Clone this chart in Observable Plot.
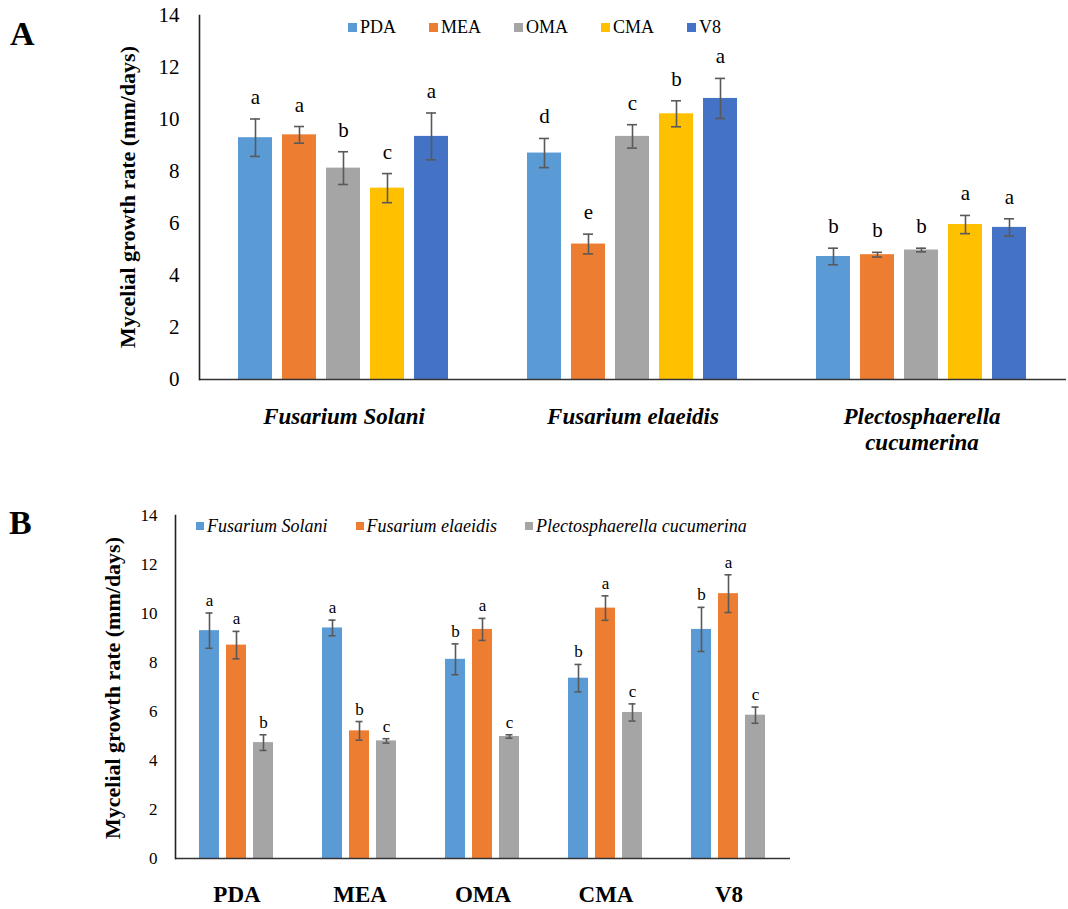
<!DOCTYPE html>
<html><head><meta charset="utf-8">
<script src="https://cdn.jsdelivr.net/npm/d3@7"></script>
<script src="https://cdn.jsdelivr.net/npm/@observablehq/plot@0.6"></script>
<style>
body{margin:0;background:#fff;}
#wrap{position:relative;width:1068px;height:909px;overflow:hidden;font-family:"Liberation Serif","Times New Roman",serif;color:#000;background:#fff;}
.ytitle{position:absolute;white-space:nowrap;font-weight:bold;font-size:22px;transform:translate(-50%,-50%) rotate(-90deg);}
.panel{position:absolute;font-weight:bold;font-size:34px;line-height:1;}
.legend{position:absolute;display:flex;align-items:center;white-space:nowrap;}
.legend .it{display:flex;align-items:center;}
.legend .sw{display:inline-block;margin-right:3px;}
#wrap svg{overflow:visible;}
#wrap svg, #wrap svg g, #wrap svg text, #wrap svg tspan{font-family:"Liberation Serif","Times New Roman",serif !important;}
</style></head><body><div id="wrap"></div>
<script>
// ---- data ----
const species = ["Fusarium Solani", "Fusarium elaeidis", "Plectosphaerella cucumerina"];
const media = ["PDA", "MEA", "OMA", "CMA", "V8"];
const mediaColors = ["#5B9BD5", "#ED7D31", "#A5A5A5", "#FFC000", "#4472C4"];
const speciesColors = ["#5B9BD5", "#ED7D31", "#A5A5A5"];
const yTicks = [0, 2, 4, 6, 8, 10, 12, 14];

// mean growth rate (mm/days) per medium [PDA, MEA, OMA, CMA, V8]
const fSolaniMean = [9.30, 9.41, 8.13, 7.36, 9.35];
const fSolaniErr = [0.72, 0.32, 0.63, 0.56, 0.90];
const fElaeidisMean = [8.71, 5.21, 9.35, 10.22, 10.81];
const fElaeidisErr = [0.56, 0.38, 0.45, 0.50, 0.77];
const pCucumerinaMean = [4.73, 4.80, 4.98, 5.96, 5.85];
const pCucumerinaErr = [0.32, 0.09, 0.07, 0.35, 0.33];

// significance letters, panel A (compare media within species)
const fSolaniLetA = ["a", "a", "b", "c", "a"];
const fElaeidisLetA = ["d", "e", "c", "b", "a"];
const pCucumerinaLetA = ["b", "b", "b", "a", "a"];
// significance letters, panel B (compare species within medium)
const fSolaniLetB = ["a", "a", "b", "b", "b"];
const fElaeidisLetB = ["a", "b", "a", "a", "a"];
const pCucumerinaLetB = ["b", "c", "c", "c", "c"];

// ---- table built from arrays ----
const means = [fSolaniMean, fElaeidisMean, pCucumerinaMean];
const errs = [fSolaniErr, fElaeidisErr, pCucumerinaErr];
const letA = [fSolaniLetA, fElaeidisLetA, pCucumerinaLetA];
const letB = [fSolaniLetB, fElaeidisLetB, pCucumerinaLetB];
const rows = [];
species.forEach((s, i) => media.forEach((m, j) => rows.push({
  species: s, medium: m, mean: means[i][j], err: errs[i][j], letA: letA[i][j], letB: letB[i][j]
})));

const wrap = document.getElementById("wrap");
const errColor = "#595959";
const axisColor = "#333333";
const serif = "'Liberation Serif', 'Times New Roman', serif";
const svgStyle = "font-family: " + serif + "; color: #000; background: transparent; overflow: visible;";

// ---- Panel A ----
const plotA = Plot.plot({
  width: 1068, height: 470,
  marginLeft: 198, marginRight: 2, marginTop: 15, marginBottom: 91,
  style: svgStyle,
  fx: {domain: species, padding: 0, label: null},
  x: {domain: media, paddingInner: 0.222, paddingOuter: 0.869, axis: null},
  y: {domain: [0, 14], axis: null},
  color: {domain: media, range: mediaColors},
  marks: [
    Plot.barY(rows, {fx: "species", x: "medium", y: "mean", fill: "medium"}),
    Plot.ruleX(rows, {fx: "species", x: "medium", y1: d => d.mean - d.err, y2: d => d.mean + d.err, stroke: errColor, strokeWidth: 1.6}),
    Plot.tickY(rows, {fx: "species", x: "medium", y: d => d.mean + d.err, stroke: errColor, strokeWidth: 1.6, insetLeft: 12, insetRight: 12}),
    Plot.tickY(rows, {fx: "species", x: "medium", y: d => d.mean - d.err, stroke: errColor, strokeWidth: 1.6, insetLeft: 12, insetRight: 12}),
    Plot.text(rows, {fx: "species", x: "medium", y: d => d.mean + d.err, text: "letA", dy: -15, lineAnchor: "bottom", fontSize: 21, fontFamily: serif}),
    Plot.ruleY([0], {stroke: axisColor, strokeWidth: 1.6}),
    Plot.frame({anchor: "left", facetAnchor: "left", stroke: "#222", strokeWidth: 1.6}),
    Plot.axisY(yTicks, {tickSize: 0, tickPadding: 20, fontSize: 21, fontFamily: serif, fontVariant: "normal", label: null}),
    Plot.axisFx({anchor: "bottom", tickSize: 0, tickPadding: 27, fontSize: 23, fontFamily: serif, fontWeight: "bold", fontStyle: "italic", lineWidth: 10, lineHeight: 1.1, label: null})
  ]
});
plotA.style.position = "absolute"; plotA.style.left = "0px"; plotA.style.top = "0px";
wrap.appendChild(plotA);

// ---- Panel B ----
const plotB = Plot.plot({
  width: 1068, height: 419,
  marginLeft: 174, marginRight: 277, marginTop: 25, marginBottom: 51,
  style: svgStyle,
  fx: {domain: media, padding: 0, label: null},
  x: {domain: species, paddingInner: 0.242, paddingOuter: 0.881, axis: null},
  y: {domain: [0, 14], axis: null},
  color: {domain: species, range: speciesColors},
  marks: [
    Plot.barY(rows, {fx: "medium", x: "species", y: "mean", fill: "species"}),
    Plot.ruleX(rows, {fx: "medium", x: "species", y1: d => d.mean - d.err, y2: d => d.mean + d.err, stroke: errColor, strokeWidth: 1.6}),
    Plot.tickY(rows, {fx: "medium", x: "species", y: d => d.mean + d.err, stroke: errColor, strokeWidth: 1.6, insetLeft: 6.5, insetRight: 6.5}),
    Plot.tickY(rows, {fx: "medium", x: "species", y: d => d.mean - d.err, stroke: errColor, strokeWidth: 1.6, insetLeft: 6.5, insetRight: 6.5}),
    Plot.text(rows, {fx: "medium", x: "species", y: d => d.mean + d.err, text: "letB", dy: -7, lineAnchor: "bottom", fontSize: 17, fontFamily: serif}),
    Plot.ruleY([0], {stroke: axisColor, strokeWidth: 1.6}),
    Plot.frame({anchor: "left", facetAnchor: "left", stroke: "#222", strokeWidth: 1.6}),
    Plot.axisY(yTicks, {tickSize: 0, tickPadding: 18, fontSize: 17, fontFamily: serif, fontVariant: "normal", label: null}),
    Plot.axisFx({anchor: "bottom", tickSize: 0, tickPadding: 27, fontSize: 23, fontFamily: serif, fontWeight: "bold", label: null})
  ]
});
plotB.style.position = "absolute"; plotB.style.left = "0px"; plotB.style.top = "490px";
wrap.appendChild(plotB);

// ---- HTML text: panel letters, axis titles, legends ----
function addDiv(cls, text, css) {
  const d = document.createElement("div");
  d.className = cls; d.textContent = text;
  Object.assign(d.style, css);
  wrap.appendChild(d);
  return d;
}
addDiv("panel", "A", {left: "10px", top: "17px"});
addDiv("panel", "B", {left: "9px", top: "506px"});
addDiv("ytitle", "Mycelial growth rate (mm/days)", {left: "128px", top: "197px"});
addDiv("ytitle", "Mycelial growth rate (mm/days)", {left: "113px", top: "688px"});

function legend(names, colors, css, sw, font) {
  const lg = document.createElement("div");
  lg.className = "legend";
  Object.assign(lg.style, css);
  names.forEach((n, i) => {
    const it = document.createElement("div"); it.className = "it";
    const s = document.createElement("span"); s.className = "sw";
    Object.assign(s.style, {width: sw + "px", height: sw + "px", background: colors[i]});
    const t = document.createElement("span"); t.textContent = n;
    Object.assign(t.style, font);
    it.appendChild(s); it.appendChild(t); lg.appendChild(it);
  });
  wrap.appendChild(lg);
}
legend(media, mediaColors, {left: "348px", top: "16px", gap: "33px", height: "22px"}, 9, {fontSize: "18px"});
legend(species, speciesColors, {left: "196px", top: "515px", gap: "28px", height: "22px"}, 8, {fontSize: "18px", fontStyle: "italic"});
</script>
</body></html>
